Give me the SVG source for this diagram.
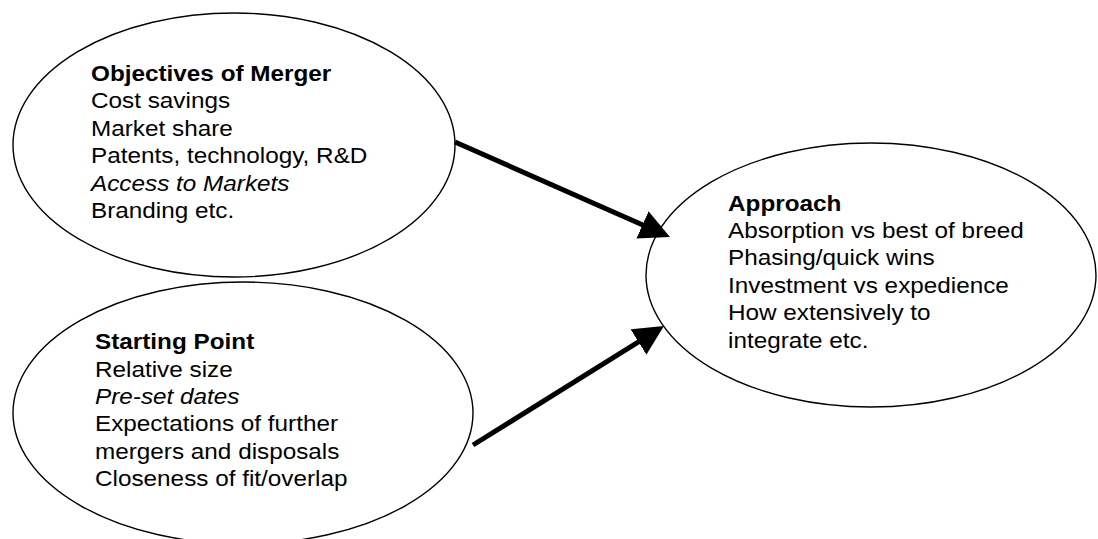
<svg xmlns="http://www.w3.org/2000/svg" width="1098" height="539" viewBox="0 0 1098 539">
  <style>
    .shape { fill: #ffffff; stroke: #000000; stroke-width: 1.4; }
    .lbl { font-family: "Liberation Sans", Arial, sans-serif; font-size: 22.3px; fill: #000000; }
    .title { font-weight: bold; }
    .it { font-style: italic; }
    .conn { stroke: #000000; stroke-width: 5; fill: none; marker-end: url(#arrow); }
  </style>
  <defs>
    <marker id="arrow" markerUnits="userSpaceOnUse" markerWidth="30" markerHeight="30" viewBox="0 0 30 30" refX="1" refY="15" orient="auto">
      <path d="M0,0 L30,15 L0,30 Z" fill="#000000"/>
    </marker>
  </defs>
  <rect width="1098" height="539" fill="#ffffff"/>

  <g id="node-objectives">
    <ellipse class="shape" cx="234" cy="145" rx="221" ry="132"/>
    <g transform="translate(91,81) scale(1.09,1)">
      <text class="lbl title" x="0" y="0">Objectives of Merger</text>
      <text class="lbl" x="0" y="27.4">Cost savings</text>
      <text class="lbl" x="0" y="54.8">Market share</text>
      <text class="lbl" x="0" y="82.2">Patents, technology, R&amp;D</text>
      <text class="lbl it" x="0" y="109.6">Access to Markets</text>
      <text class="lbl" x="0" y="137">Branding etc.</text>
    </g>
  </g>

  <g id="node-starting">
    <ellipse class="shape" cx="243" cy="413" rx="230" ry="131"/>
    <g transform="translate(95,349.3) scale(1.09,1)">
      <text class="lbl title" x="0" y="0">Starting Point</text>
      <text class="lbl" x="0" y="27.4">Relative size</text>
      <text class="lbl it" x="0" y="54.8">Pre-set dates</text>
      <text class="lbl" x="0" y="82.2">Expectations of further</text>
      <text class="lbl" x="0" y="109.6">mergers and disposals</text>
      <text class="lbl" x="0" y="137">Closeness of fit/overlap</text>
    </g>
  </g>

  <g id="node-approach">
    <ellipse class="shape" cx="871" cy="275" rx="225" ry="132"/>
    <g transform="translate(728,210.7) scale(1.09,1)">
      <text class="lbl title" x="0" y="0">Approach</text>
      <text class="lbl" x="0" y="27.4">Absorption vs best of breed</text>
      <text class="lbl" x="0" y="54.8">Phasing/quick wins</text>
      <text class="lbl" x="0" y="82.2">Investment vs expedience</text>
      <text class="lbl" x="0" y="109.6">How extensively to</text>
      <text class="lbl" x="0" y="137">integrate etc.</text>
    </g>
  </g>

  <g id="connectors">
    <line class="conn" x1="455" y1="142" x2="643.4" y2="225.3"/>
    <line class="conn" x1="473" y1="445" x2="639.3" y2="341.4"/>
  </g>
</svg>
